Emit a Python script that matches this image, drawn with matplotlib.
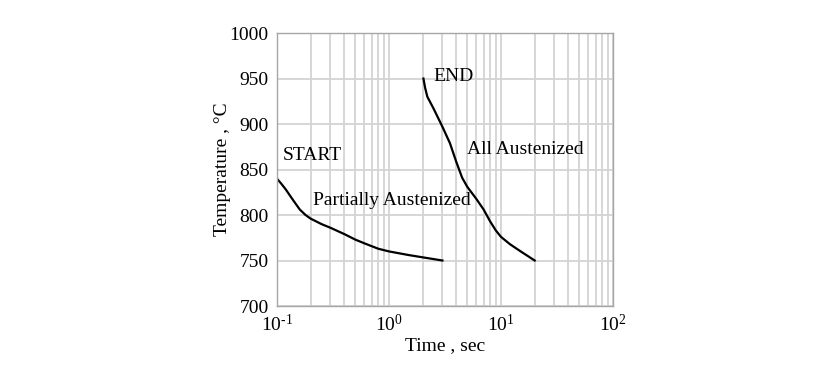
import numpy as np
import matplotlib.pyplot as plt
from matplotlib.ticker import LogLocator, FixedLocator, FuncFormatter

plt.rcParams['font.family'] = ['Liberation Serif', 'DejaVu Serif']
plt.rcParams['mathtext.fontset'] = 'custom'
plt.rcParams['mathtext.rm'] = 'Liberation Serif'
plt.rcParams['mathtext.it'] = 'Liberation Serif:italic'
plt.rcParams['mathtext.default'] = 'regular'

# START curve (time in s, temperature in degC)
start_time = [0.1, 0.11, 0.12, 0.14, 0.16, 0.18, 0.2, 0.25, 0.3, 0.4,
              0.5, 0.6, 0.8, 1.0, 1.5, 2.0, 3.0]
start_temp = [840, 834, 828, 816, 806, 800, 796, 790, 786, 779,
              773, 769, 763, 760, 756, 753.5, 750]

# END curve
end_time = [2.03, 2.1, 2.2, 2.5, 3.0, 3.5, 4.0, 4.5, 5.0, 6.0,
            7.0, 8.0, 9.0, 10.0, 12.0, 15.0, 20.0]
end_temp = [950, 940, 930, 917, 897, 879, 858, 841, 831, 818,
            806, 793, 783, 776, 768, 760, 750]

yticks = [700, 750, 800, 850, 900, 950, 1000]
xtick_exps = {0.1: '-1', 1: '0', 10: '1', 100: '2'}


def fmt_x(v, pos):
    e = int(round(np.log10(v)))
    return r'$10^{\text{%d}}$' % e


fig = plt.figure(figsize=(8.38, 3.8), dpi=100)
ax = fig.add_axes([0.3305, 0.1947, 0.401, 0.7184])

ax.plot(start_time, start_temp, color='black', linewidth=1.6)
ax.plot(end_time, end_temp, color='black', linewidth=1.6)

ax.set_xscale('log')
ax.set_xlim(0.1, 100)
ax.set_ylim(700, 1000)
ax.yaxis.set_major_locator(FixedLocator(yticks))
ax.xaxis.set_major_locator(LogLocator(base=10, numticks=10))
ax.xaxis.set_minor_locator(LogLocator(base=10, subs=np.arange(2, 10), numticks=20))
ax.xaxis.set_major_formatter(FuncFormatter(fmt_x))

gc = '#d3d3d3'
ax.grid(True, which='both', axis='x', color=gc, linewidth=1.3)
ax.grid(True, which='major', axis='y', color=gc, linewidth=1.3)
ax.set_axisbelow(True)
for s in ax.spines.values():
    s.set_color('#a6a6a6')
    s.set_linewidth(1.0)
ax.tick_params(which='both', length=0, labelsize=14, pad=6)
ax.xaxis.set_tick_params(which='minor', labelbottom=False)

ax.set_xlabel('Time , sec', fontsize=14, labelpad=1)
ax.set_ylabel('Temperature , \u00b0C', fontsize=14)
ax.yaxis.set_label_coords(-0.137, 0.5)

tk = dict(fontsize=14, color='black')
ax.text(0.112, 860, 'START', **tk)
ax.text(0.21, 811, 'Partially Austenized', **tk)
ax.text(2.5, 947, 'END', **tk)
ax.text(5.0, 867, 'All Austenized', **tk)

fig.savefig('out.png', dpi=100, facecolor='white')
